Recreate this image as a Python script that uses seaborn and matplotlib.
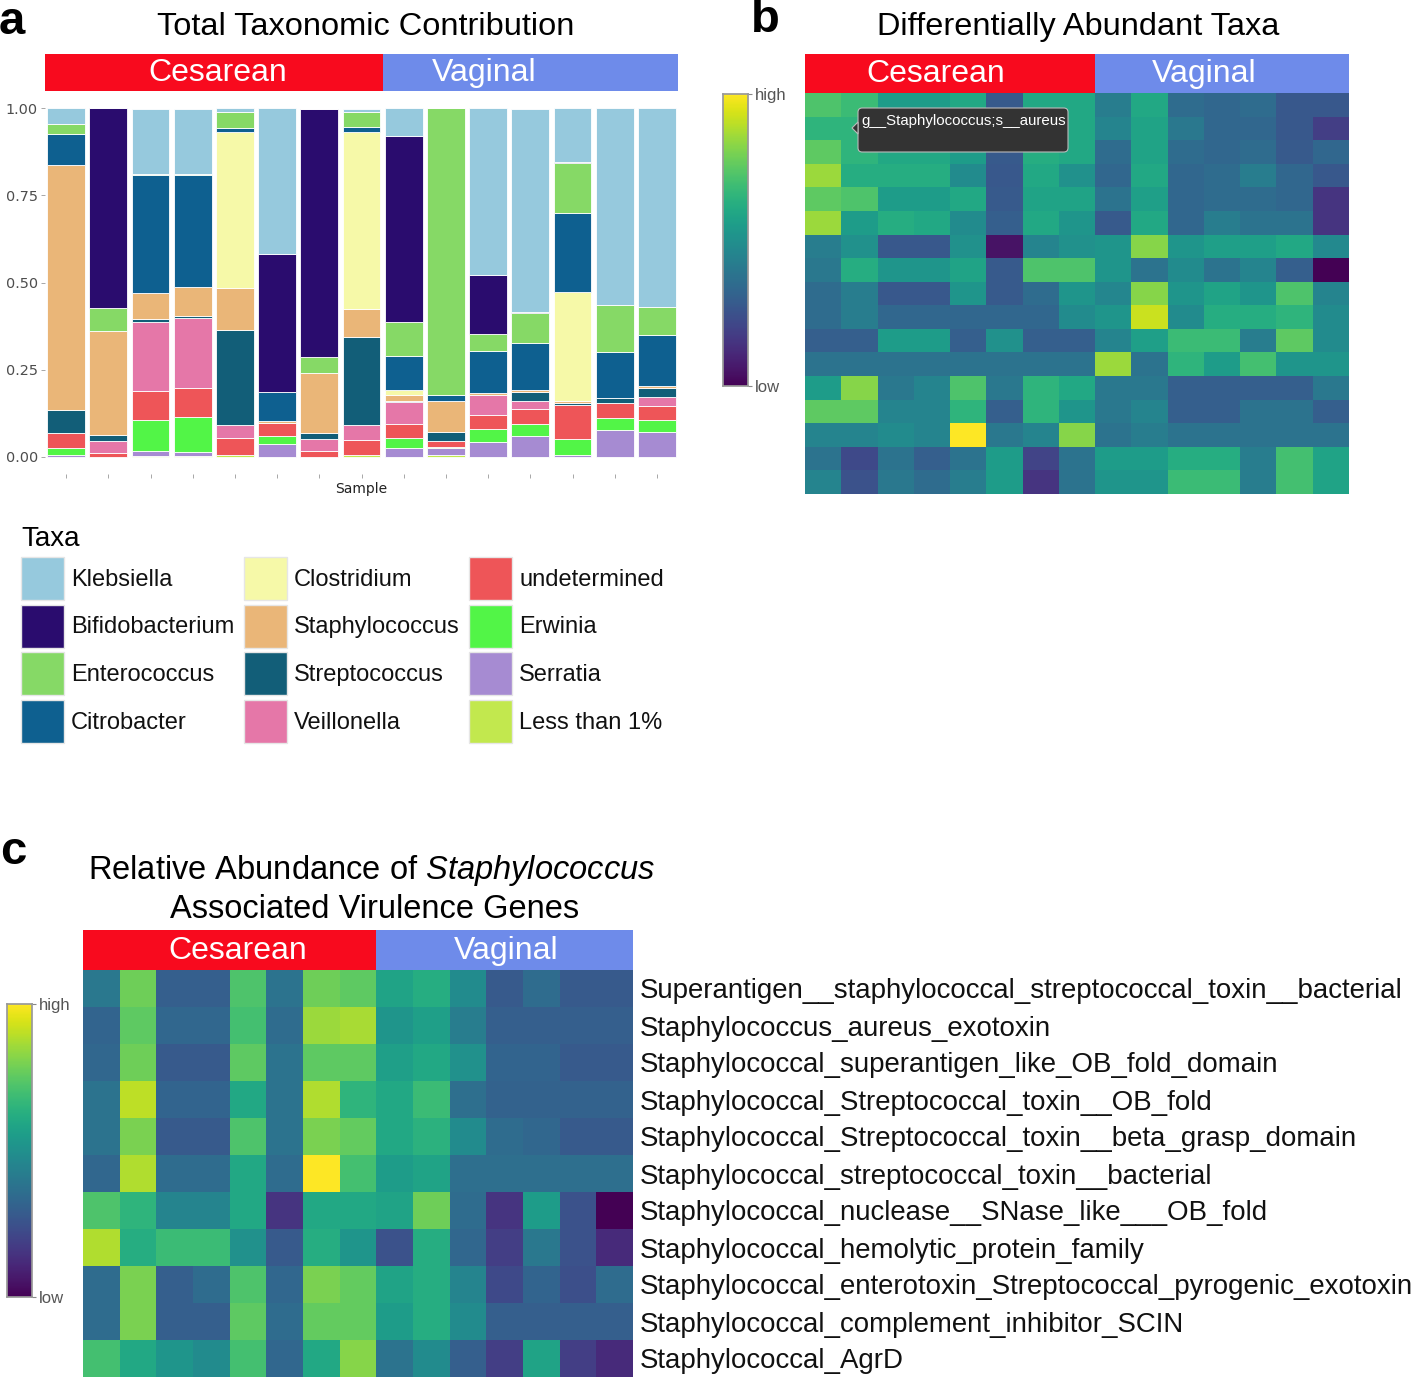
import matplotlib
matplotlib.use("Agg")
import matplotlib.pyplot as plt
from matplotlib.patches import Patch, FancyBboxPatch, Polygon
import numpy as np
import pandas as pd
import seaborn as sns

sns.set_theme(style="white")
plt.rcParams['font.family'] = ['Liberation Sans', 'DejaVu Sans']
plt.rcParams['text.color'] = 'black'
plt.rcParams['mathtext.fontset'] = 'custom'
plt.rcParams['mathtext.rm'] = 'Liberation Sans'
plt.rcParams['mathtext.it'] = 'Liberation Sans:italic'

# ---- panel a data (fraction per sample, 15 samples: 8 cesarean + 7 vaginal)
samples = [f"S{i+1}" for i in range(15)]
taxa = ["Klebsiella", "Bifidobacterium", "Enterococcus", "Citrobacter",
        "Clostridium", "Staphylococcus", "Streptococcus", "Veillonella",
        "undetermined", "Erwinia", "Serratia", "Less than 1%"]
klebsiella      = [.046, 0, .185, .187, .010, .418, 0, .010, .080, 0, .479, .583, .155, .565, .571]
bifidobacterium = [0, .576, 0, 0, 0, .397, .714, 0, .534, 0, .169, .004, .004, 0, 0]
enterococcus    = [.027, .064, .005, .004, .047, 0, .046, .042, .096, .822, .050, .086, .141, .135, .080]
citrobacter     = [.090, 0, .338, .320, .010, .082, 0, .014, .098, .019, .119, .134, .227, .133, .145]
clostridium     = [0, 0, 0, 0, .450, 0, 0, .510, .014, 0, 0, 0, .314, 0, 0]
staphylococcus  = [.702, .300, .075, .083, .118, .007, .170, .079, .017, .088, .008, .006, .007, 0, .007]
streptococcus   = [.067, .017, .008, .008, .275, 0, .018, .253, .004, .026, 0, .026, .006, .012, .027]
veillonella     = [0, .034, .200, .200, .037, 0, .036, .042, .063, 0, .057, .022, 0, 0, .024]
undetermined    = [.043, .011, .083, .083, .048, .036, .015, .044, .041, .017, .040, .044, .096, .045, .042]
erwinia         = [.019, 0, .088, .100, 0, .024, 0, 0, .028, .003, .037, .036, .045, .034, .034]
serratia        = [.006, 0, .013, .011, 0, .036, 0, 0, .025, .020, .042, .058, .006, .076, .070]
less_than_1     = [0, 0, .003, .003, .005, 0, 0, .005, 0, .005, 0, 0, 0, 0, 0]
abund = pd.DataFrame({
    "Klebsiella": klebsiella, "Bifidobacterium": bifidobacterium,
    "Enterococcus": enterococcus, "Citrobacter": citrobacter,
    "Clostridium": clostridium, "Staphylococcus": staphylococcus,
    "Streptococcus": streptococcus, "Veillonella": veillonella,
    "undetermined": undetermined, "Erwinia": erwinia,
    "Serratia": serratia, "Less than 1%": less_than_1}, index=samples)
taxa_colors = ["#96C9DD", "#2A0C6E", "#86D966", "#0E6090", "#F6F9A8", "#EAB678",
               "#125E78", "#E577A8", "#EE5558", "#52F547", "#A68BD2", "#C2E84E"]
groups = ["Cesarean", "Vaginal"]
n_ces = 8

# ---- panel b data (differentially abundant taxa, scaled low..high)
taxa_heat = [
    [.72, .68, .55, .55, .60, .28, .60, .60, .42, .60, .35, .33, .35, .27, .27],
    [.65, .65, .55, .55, .55, .28, .60, .60, .45, .58, .40, .33, .33, .27, .18],
    [.75, .65, .60, .60, .55, .28, .62, .60, .35, .58, .35, .33, .35, .28, .33],
    [.85, .62, .62, .62, .48, .27, .60, .50, .33, .60, .33, .35, .42, .33, .27],
    [.75, .72, .55, .55, .60, .28, .58, .58, .38, .56, .33, .35, .35, .33, .15],
    [.85, .55, .62, .60, .48, .30, .60, .52, .28, .60, .33, .42, .38, .38, .15],
    [.42, .50, .27, .27, .50, .05, .45, .50, .52, .82, .52, .56, .56, .60, .47],
    [.40, .62, .52, .52, .58, .28, .72, .72, .52, .38, .48, .38, .45, .30, .00],
    [.35, .42, .27, .27, .52, .28, .35, .52, .46, .82, .52, .58, .52, .72, .45],
    [.35, .42, .33, .33, .33, .33, .33, .48, .52, .92, .48, .62, .62, .65, .48],
    [.30, .30, .55, .55, .30, .50, .30, .30, .45, .56, .68, .68, .42, .75, .48],
    [.38, .38, .38, .38, .38, .38, .38, .38, .85, .38, .65, .55, .70, .52, .52],
    [.55, .82, .40, .45, .72, .40, .65, .60, .40, .40, .30, .30, .30, .30, .40],
    [.75, .75, .45, .45, .65, .30, .65, .52, .40, .45, .30, .30, .38, .38, .30],
    [.45, .45, .48, .45, 1.0, .40, .45, .82, .38, .42, .38, .38, .38, .38, .38],
    [.38, .22, .38, .30, .38, .55, .20, .38, .55, .55, .62, .62, .42, .70, .58],
    [.45, .25, .40, .35, .42, .55, .15, .38, .52, .52, .68, .68, .42, .70, .58],
]
tooltip_text = "g__Staphylococcus;s__aureus"

# ---- panel c data (virulence genes)
genes = [
    "Superantigen__staphylococcal_streptococcal_toxin__bacterial",
    "Staphylococcus_aureus_exotoxin",
    "Staphylococcal_superantigen_like_OB_fold_domain",
    "Staphylococcal_Streptococcal_toxin__OB_fold",
    "Staphylococcal_Streptococcal_toxin__beta_grasp_domain",
    "Staphylococcal_streptococcal_toxin__bacterial",
    "Staphylococcal_nuclease__SNase_like___OB_fold",
    "Staphylococcal_hemolytic_protein_family",
    "Staphylococcal_enterotoxin_Streptococcal_pyrogenic_exotoxin",
    "Staphylococcal_complement_inhibitor_SCIN",
    "Staphylococcal_AgrD",
]
gene_heat = [
    [.40, .78, .30, .30, .72, .38, .78, .75, .58, .62, .48, .28, .35, .28, .28],
    [.32, .75, .33, .33, .70, .35, .85, .87, .52, .56, .42, .30, .30, .30, .30],
    [.33, .78, .28, .28, .75, .38, .75, .75, .56, .60, .50, .32, .32, .28, .28],
    [.38, .90, .32, .32, .60, .38, .88, .65, .60, .68, .36, .31, .31, .31, .31],
    [.38, .80, .28, .28, .72, .38, .80, .76, .60, .64, .48, .35, .33, .28, .28],
    [.33, .88, .35, .35, .60, .35, 1.0, .70, .55, .58, .36, .36, .36, .36, .36],
    [.72, .65, .45, .45, .60, .15, .60, .60, .58, .78, .35, .15, .55, .25, .00],
    [.88, .62, .68, .68, .50, .28, .62, .52, .25, .62, .33, .18, .40, .25, .12],
    [.35, .80, .30, .35, .72, .33, .80, .76, .58, .62, .45, .22, .32, .24, .35],
    [.35, .80, .30, .30, .75, .35, .76, .76, .55, .62, .48, .30, .30, .30, .30],
    [.70, .60, .52, .48, .70, .33, .60, .82, .38, .48, .30, .18, .58, .18, .12],
]

W, H = 1415, 1379
fig = plt.figure(figsize=(W / 100, H / 100), dpi=100)


def px_axes(x0, y0, x1, y1):
    return fig.add_axes([x0 / W, 1 - y1 / H, (x1 - x0) / W, (y1 - y0) / H])


def fx(x, y):
    return x / W, 1 - y / H


def strip(ax, n, n_first, text_pos):
    ax.axvspan(0, n_first, color="#F80A1E", lw=0)
    ax.axvspan(n_first, n, color="#6E8BEA", lw=0)
    ax.set_xlim(0, n)
    ax.set_ylim(0, 1)
    for g, xp in zip(groups, text_pos):
        ax.text(xp, 0.48, g, color="white", fontsize=23, ha="center", va="center")
    ax.set_axis_off()


def colorbar_labels(cax):
    cax.set_yticks([0, 1])
    cax.set_yticklabels(["low", "high"])
    cax.tick_params(axis="y", length=3, width=0.8, color="#888888",
                    labelsize=12, labelcolor="#555555", pad=2)
    for s in cax.spines.values():
        s.set_visible(True)
        s.set_edgecolor("#999999")


# ---------------- panel a
ax_a = px_axes(45, 91, 678, 474)
x = np.arange(len(samples))
bottom = np.zeros(len(samples))
for t, c in list(zip(taxa, taxa_colors))[::-1]:
    vals = abund[t].values
    ax_a.bar(x, vals, bottom=bottom, width=0.9, color=c, edgecolor="white", linewidth=0.6)
    bottom += vals
ax_a.set_xlim(-0.5, len(samples) - 0.5)
ax_a.set_ylim(-0.05, 1.05)
ax_a.set_yticks([0, .25, .5, .75, 1])
ax_a.set_yticklabels(["0.00", "0.25", "0.50", "0.75", "1.00"],
                     fontfamily="DejaVu Sans", fontsize=10.4, color="#4D4D4D")
ax_a.set_xticks(x)
ax_a.set_xticklabels([])
ax_a.tick_params(axis="both", length=3, width=0.6, color="#999999", pad=2, left=True, bottom=True)
ax_a.set_xlabel("Sample", fontfamily="DejaVu Sans", fontsize=10, labelpad=1, color="#222222")
for s in ax_a.spines.values():
    s.set_visible(False)

strip(px_axes(45, 54, 678, 91), len(samples), n_ces, text_pos=[4.1, 10.4])

handles = [Patch(facecolor=c, edgecolor="#e6e6e6", label=t) for t, c in zip(taxa, taxa_colors)]
leg = fig.legend(handles=handles, ncol=3, loc="upper left", bbox_to_anchor=fx(21, 526),
                 frameon=False, fontsize=17, title="Taxa", title_fontsize=20,
                 handlelength=1.82, handleheight=2.43, handletextpad=0.3,
                 columnspacing=0.4, labelspacing=0.2, borderpad=0, borderaxespad=0,
                 alignment="left", labelcolor="#111111")

# ---------------- panel b
ax_b = px_axes(805, 93, 1349, 494)
cax_b = px_axes(723, 94, 748, 386)
sns.heatmap(np.array(taxa_heat), ax=ax_b, cmap="viridis", vmin=0, vmax=1,
            cbar_ax=cax_b, xticklabels=False, yticklabels=False)
colorbar_labels(cax_b)
strip(px_axes(805, 54, 1349, 93), 15, n_ces, text_pos=[3.61, 11.0])

x0, y0 = fx(858, 152)
x1, y1 = fx(1068, 108)
fig.patches.append(FancyBboxPatch((x0, y0), x1 - x0, y1 - y0,
                                  boxstyle="round,pad=0,rounding_size=0.003",
                                  transform=fig.transFigure, facecolor="#333333",
                                  edgecolor="#bbbbbb", linewidth=0.8, zorder=10))
fig.patches.append(Polygon([fx(858, 122), fx(852, 128), fx(858, 134)], closed=True,
                           transform=fig.transFigure, facecolor="#333333",
                           edgecolor="#bbbbbb", linewidth=0.8, zorder=10))
fig.text(*fx(861, 121), tooltip_text, color="white", fontsize=10.8, ha="left", va="center", zorder=11)

# ---------------- panel c
ax_c = px_axes(83, 970, 633, 1377)
cax_c = px_axes(7, 1004, 32, 1297)
sns.heatmap(pd.DataFrame(gene_heat, index=genes), ax=ax_c, cmap="viridis", vmin=0, vmax=1,
            cbar_ax=cax_c, xticklabels=False, yticklabels=True)
ax_c.yaxis.tick_right()
ax_c.tick_params(axis="y", length=0, pad=5, labelsize=19.9, labelcolor="#111111", rotation=0)
colorbar_labels(cax_c)
strip(px_axes(83, 930, 633, 970), 15, n_ces, text_pos=[4.23, 11.54])

# ---------------- titles and panel letters
fig.text(*fx(366, 27), "Total Taxonomic Contribution", fontsize=23.4, ha="center", va="center")
fig.text(*fx(1078, 27), "Differentially Abundant Taxa", fontsize=23.4, ha="center", va="center")
fig.text(*fx(372, 871), r"Relative Abundance of $\mathit{Staphylococcus}$",
         fontsize=23.5, ha="center", va="center")
fig.text(*fx(375, 910), "Associated Virulence Genes", fontsize=23.5, ha="center", va="center")
for letter, (lx, ly) in zip("abc", [(12, 22), (765, 20), (13, 852)]):
    fig.text(*fx(lx, ly), letter, fontsize=34, fontweight="bold", ha="center", va="center")

fig.savefig("out.png", dpi=100, facecolor="white")
